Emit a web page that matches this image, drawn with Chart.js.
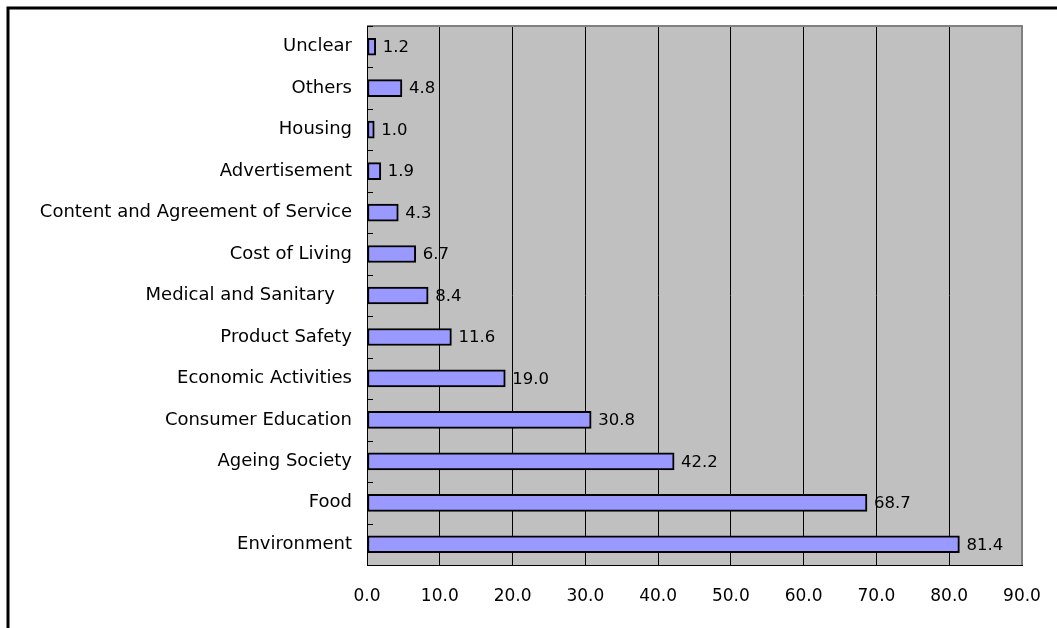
<!DOCTYPE html>
<html>
<head>
<meta charset="utf-8">
<script src="https://cdn.jsdelivr.net/npm/chart.js@4/dist/chart.umd.min.js"></script>
<style>
  html, body { margin: 0; padding: 0; background: #fff; }
  #wrap { width: 1057px; height: 628px; position: relative; }
</style>
</head>
<body>
<div id="wrap"><canvas id="chart" width="1057" height="628"></canvas></div>
<script>
// Survey items, listed top to bottom
const categories = [
  'Unclear',
  'Others',
  'Housing',
  'Advertisement',
  'Content and Agreement of Service',
  'Cost of Living',
  'Medical and Sanitary   ',
  'Product Safety',
  'Economic Activities',
  'Consumer Education',
  'Ageing Society',
  'Food',
  'Environment'
];
const shares = [1.2, 4.8, 1.0, 1.9, 4.3, 6.7, 8.4, 11.6, 19.0, 30.8, 42.2, 68.7, 81.4];
const xTicks = [0, 10, 20, 30, 40, 50, 60, 70, 80, 90];

const FAMILY = '"DejaVu Sans", sans-serif';
const LABEL_FONT = { family: FAMILY, size: 18 };
const TICK_FONT = { family: FAMILY, size: 17 };
const VALUE_FONT = { family: FAMILY, size: 16.5 };

// grey plot background, frame and inner category ticks
const plotFrame = {
  id: 'plotFrame',
  beforeDraw(chart) {
    const { ctx, chartArea: a } = chart;
    ctx.save();
    ctx.fillStyle = '#C0C0C0';
    ctx.fillRect(a.left, a.top, a.right - a.left, a.bottom - a.top);
    ctx.restore();
  },
  afterDatasetsDraw(chart) {
    const { ctx, chartArea: a } = chart;
    const y = chart.scales.y;
    ctx.save();
    // top and right edges
    ctx.strokeStyle = '#808080';
    ctx.lineWidth = 2;
    ctx.beginPath();
    ctx.moveTo(a.left, a.top);
    ctx.lineTo(a.right, a.top);
    ctx.lineTo(a.right, a.bottom);
    ctx.stroke();
    // category boundary ticks pointing into the plot
    ctx.strokeStyle = '#000';
    ctx.lineWidth = 1;
    const step = (y.bottom - y.top) / categories.length;
    for (let i = 0; i <= categories.length; i++) {
      const py = Math.round(y.top + i * step) + 0.5;
      ctx.beginPath();
      ctx.moveTo(a.left, py);
      ctx.lineTo(a.left + 6, py);
      ctx.stroke();
    }
    // outer frame
    ctx.lineWidth = 3;
    ctx.strokeRect(8, 8, 1200, 800);
    ctx.restore();
  }
};

// value labels at the end of each bar
const valueLabels = {
  id: 'valueLabels',
  afterDatasetsDraw(chart) {
    const { ctx } = chart;
    const meta = chart.getDatasetMeta(0);
    ctx.save();
    ctx.font = `${VALUE_FONT.size}px ${VALUE_FONT.family}`;
    ctx.fillStyle = '#000';
    ctx.textAlign = 'left';
    ctx.textBaseline = 'middle';
    meta.data.forEach((bar, i) => {
      ctx.fillText(shares[i].toFixed(1), bar.x + 7, bar.y + 1);
    });
    ctx.restore();
  }
};

new Chart(document.getElementById('chart'), {
  type: 'bar',
  data: {
    labels: categories,
    datasets: [{
      data: shares,
      backgroundColor: '#9999FF',
      borderColor: '#000',
      borderWidth: 2,
      borderSkipped: false,
      barThickness: 17
    }]
  },
  options: {
    indexAxis: 'y',
    responsive: false,
    animation: false,
    layout: { padding: { top: 26, right: 35, left: 0, bottom: 0 } },
    plugins: {
      legend: { display: false },
      tooltip: { enabled: false }
    },
    scales: {
      x: {
        min: 0,
        max: 90,
        afterBuildTicks(scale) {
          scale.ticks = xTicks.map(v => ({ value: v }));
        },
        afterFit(scale) {
          scale.height = 63;
          scale.paddingLeft = 0;
          scale.paddingRight = 0;
        },
        grid: {
          color: ctx => (ctx.tick && ctx.tick.value === 90 ? 'rgba(0,0,0,0)' : '#000'),
          lineWidth: 1,
          drawTicks: false
        },
        border: { display: true, color: '#000', width: 1 },
        ticks: {
          padding: 21,
          color: '#000',
          font: TICK_FONT,
          callback: v => Number(v).toFixed(1)
        }
      },
      y: {
        afterFit(scale) {
          scale.width = 367;
          scale.paddingTop = 0;
          scale.paddingBottom = 0;
        },
        grid: { display: false, drawTicks: false },
        border: { display: true, color: '#000', width: 1 },
        ticks: {
          padding: 15,
          color: '#000',
          font: LABEL_FONT,
          autoSkip: false
        }
      }
    }
  },
  plugins: [plotFrame, valueLabels]
});
</script>
</body>
</html>
